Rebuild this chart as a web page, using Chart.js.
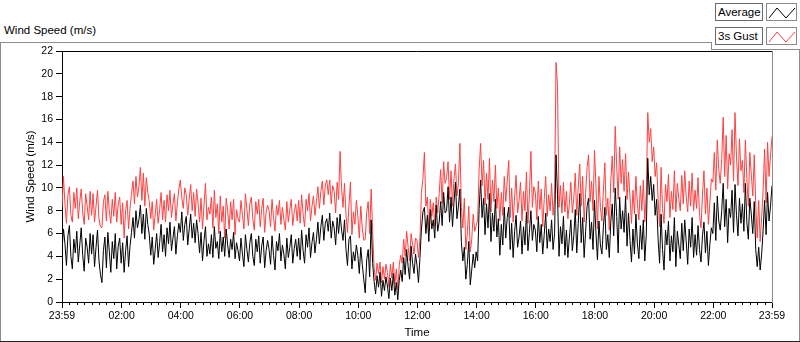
<!DOCTYPE html>
<html>
<head>
<meta charset="utf-8">
<script src="https://cdn.jsdelivr.net/npm/chart.js@4/dist/chart.umd.min.js"></script>
<style>
html,body{margin:0;padding:0;background:#fff;}
#wrap{position:relative;width:800px;height:342px;overflow:hidden;font-family:"Liberation Sans",Arial,sans-serif;color:#000;}
.ln{position:absolute;background:#8c8c8c;}
#title{position:absolute;left:4px;top:24px;font-size:11.5px;line-height:13px;white-space:nowrap;}
.lg{position:absolute;box-sizing:border-box;height:18px;border:1px solid #6a6a6a;background:#fff;font-size:11.5px;line-height:15px;padding:1px 0 0 2px;white-space:nowrap;}
.ic{position:absolute;box-sizing:border-box;width:31px;height:18px;border:1px solid #8a8a8a;background:#fff;}
.ic svg{position:absolute;left:0;top:0;}
canvas{position:absolute;left:0;top:0;}
</style>
</head>
<body>
<div id="wrap">
  <div class="ln" style="left:0;top:42px;width:712px;height:1px;"></div>
  <div class="ln" style="left:711px;top:42px;width:1px;height:8px;"></div>
  <div class="ln" style="left:711px;top:49px;width:89px;height:1px;"></div>
  <div class="ln" style="left:0;top:42px;width:1px;height:300px;"></div>
  <div class="ln" style="left:799px;top:49px;width:1px;height:293px;"></div>
  <div class="ln" style="left:0;top:341px;width:800px;height:1px;background:#202020;"></div>
  <div id="title">Wind Speed (m/s)</div>
  <div class="lg" style="left:715px;top:3px;width:48px;">Average</div>
  <div class="ic" style="left:766px;top:3px;"><svg width="31" height="18"><polyline points="2,14 10,4 19,14 28,4" fill="none" stroke="#000" stroke-width="1"/></svg></div>
  <div class="lg" style="left:715px;top:27px;width:48px;">3s Gust</div>
  <div class="ic" style="left:766px;top:27px;"><svg width="31" height="18"><polyline points="2,14 10,4 19,14 28,4" fill="none" stroke="rgb(255,64,64)" stroke-width="1"/></svg></div>
  <canvas id="c" width="800" height="342"></canvas>
</div>
<script>
// Sampling interval of the series, minutes from the first sample (23:59)
const STEP_MIN = 3;

const seriesNames = ['Average', '3s Gust'];

// Average wind speed (m/s), one value every 3 minutes, 23:59 -> 23:59 (one row per hour)
const avgSpeed = [
  4.6, 6.4, 5.1, 3.2, 5.8, 6.7, 4.0, 2.9, 5.5, 4.3, 6.2, 3.5, 5.0, 6.5, 4.1, 2.7, 5.6, 4.8, 3.4, 6.0,
  4.2, 5.9, 3.1, 4.8, 6.3, 3.6, 2.4, 1.7, 4.5, 5.7, 3.0, 6.1, 4.4, 2.6, 5.3, 3.8, 6.0, 2.9, 4.9, 5.6,
  3.4, 5.2, 2.6, 4.5, 5.8, 3.1, 4.9, 6.1, 7.4, 5.6, 8.0, 6.5, 7.2, 8.5, 6.0, 7.7, 5.5, 8.2, 6.8, 5.9,
  4.1, 5.7, 3.3, 4.6, 6.0, 3.9, 5.2, 6.8, 4.4, 5.9, 4.0, 6.5, 5.1, 7.0, 4.5, 5.6, 6.6, 4.2, 5.8, 6.9,
  6.1, 7.9, 5.4, 6.8, 7.5, 5.0, 6.4, 7.7, 5.6, 6.9, 5.2, 7.2, 6.0, 4.3, 6.1, 3.6, 5.4, 6.6, 4.0, 5.1,
  4.2, 5.9, 3.9, 6.6, 4.7, 5.3, 3.8, 6.2, 4.4, 5.7, 4.0, 6.4, 5.0, 3.9, 5.5, 4.6, 6.1, 3.8, 5.2, 4.5,
  3.6, 5.6, 4.2, 3.1, 5.9, 4.6, 3.5, 5.2, 6.0, 4.0, 3.2, 5.5, 4.4, 5.8, 3.4, 4.9, 5.7, 3.0, 4.5, 5.4,
  4.6, 3.3, 5.8, 4.1, 2.8, 5.3, 4.5, 6.0, 3.6, 5.0, 4.2, 2.9, 5.6, 3.9, 4.8, 5.9, 3.4, 4.7, 5.5, 4.0,
  5.6, 3.7, 6.3, 4.5, 3.4, 5.9, 4.8, 6.5, 3.9, 5.2, 6.1, 4.3, 5.5, 7.0, 5.1, 6.6, 7.6, 5.4, 6.9, 7.3,
  6.2, 7.8, 5.6, 7.1, 6.5, 5.0, 7.4, 6.0, 7.7, 6.3, 5.4, 7.2, 4.6, 3.2, 5.5, 5.8, 2.9, 4.4, 3.6, 5.0,
  4.1, 2.5, 4.8, 3.3, 2.0, 0.8, 3.7, 4.6, 2.2, 7.2, 3.4, 1.8, 0.7, 2.3, 1.3, 2.6, 0.5, 1.9, 1.0, 2.2,
  1.4, 0.3, 2.1, 1.0, 2.5, 0.6, 1.7, 0.2, 1.9, 2.8, 1.8, 3.9, 2.4, 4.6, 3.1, 2.0, 4.9, 3.4, 2.5, 4.2,
  3.2, 1.7, 3.9, 6.4, 7.9, 8.3, 6.0, 7.6, 5.3, 8.1, 6.4, 7.2, 5.6, 8.5, 6.2, 7.0, 8.8, 6.7, 9.6, 7.8,
  8.0, 10.1, 7.0, 9.2, 6.6, 8.7, 10.5, 7.3, 8.4, 9.9, 5.2, 3.6, 4.8, 2.0, 3.3, 5.3, 1.5, 2.8, 4.2, 3.0,
  4.4, 3.6, 8.2, 10.7, 7.4, 9.1, 5.9, 8.6, 6.5, 9.5, 5.3, 7.8, 6.2, 9.0, 5.7, 7.3, 4.1, 6.8, 5.0, 8.3,
  5.6, 7.4, 8.3, 4.6, 6.9, 3.9, 6.2, 7.6, 4.8, 5.7, 7.1, 4.2, 6.6, 5.0, 7.9, 4.5, 6.1, 8.0, 5.4, 6.8,
  6.3, 4.4, 7.5, 5.2, 6.8, 4.2, 5.9, 7.8, 4.7, 6.4, 5.3, 7.2, 4.6, 6.0, 12.9, 9.4, 4.0, 6.6, 5.1, 7.5,
  4.1, 6.3, 3.9, 5.6, 7.2, 4.5, 5.8, 8.1, 4.3, 6.9, 9.5, 5.2, 7.4, 3.9, 6.2, 8.4, 9.1, 5.5, 7.0, 4.6,
  8.9, 6.0, 3.7, 7.1, 5.0, 4.2, 6.6, 8.3, 4.6, 5.9, 3.9, 7.0, 8.6, 5.8, 10.0, 7.5, 4.3, 9.2, 6.4, 8.0,
  6.1, 9.3, 4.9, 7.8, 5.4, 3.5, 6.4, 4.2, 7.7, 5.1, 3.8, 6.7, 4.6, 7.2, 3.6, 5.9, 12.6, 9.4, 11.0, 8.9,
  10.3, 7.6, 9.0, 5.5, 3.4, 7.7, 4.6, 2.8, 6.3, 5.0, 7.1, 3.6, 5.8, 4.4, 7.4, 3.1, 6.2, 5.0, 3.8, 6.9,
  4.5, 7.2, 5.3, 3.3, 6.4, 4.8, 7.4, 3.9, 5.9, 4.1, 6.7, 4.6, 3.5, 5.8, 7.0, 4.3, 6.2, 3.2, 5.1, 6.5,
  6.0, 8.7, 5.4, 9.3, 7.1, 6.3, 8.0, 10.4, 6.6, 9.0, 5.2, 8.2, 7.4, 9.8, 6.1, 10.3, 7.6, 5.8, 9.1, 6.9,
  8.6, 6.2, 10.4, 7.0, 5.5, 9.1, 7.7, 6.0, 8.8, 4.6, 3.1, 4.8, 2.8, 4.2, 6.3, 8.9, 5.9, 9.6, 7.1, 8.4,
  10.2
];

// 3-second gust (m/s), same sampling
const gustSpeed = [
  8.3, 11.0, 8.6, 6.9, 9.4, 10.1, 7.6, 7.0, 9.6, 8.2, 10.0, 7.3, 8.8, 9.9, 7.8, 6.8, 9.5, 8.4, 7.2, 9.7,
  7.6, 9.5, 7.0, 8.4, 9.8, 7.3, 6.6, 6.5, 8.8, 9.4, 7.1, 9.7, 8.0, 6.9, 9.0, 7.5, 9.6, 7.0, 8.6, 9.2,
  6.8, 8.7, 5.6, 8.0, 8.9, 6.4, 8.2, 9.5, 10.6, 8.6, 11.0, 9.2, 10.1, 11.8, 8.9, 11.3, 8.4, 10.9, 9.6, 8.8,
  7.3, 8.8, 6.3, 7.7, 9.0, 6.9, 8.1, 9.6, 7.2, 8.9, 7.0, 9.4, 8.0, 9.8, 7.4, 8.6, 9.5, 7.1, 8.7, 9.9,
  10.7, 9.1, 8.2, 10.0, 9.4, 7.6, 9.0, 10.3, 8.0, 9.6, 7.5, 9.9, 8.6, 7.0, 9.1, 6.4, 8.5, 10.4, 7.2, 8.3,
  7.7, 9.2, 6.5, 9.8, 7.4, 8.6, 6.0, 9.3, 7.0, 8.4, 5.6, 9.1, 8.0, 6.4, 8.8, 7.2, 9.0, 5.9, 8.1, 7.3,
  7.0, 8.9, 7.6, 6.4, 9.5, 8.1, 6.7, 8.6, 9.2, 7.3, 6.3, 8.8, 7.7, 9.0, 6.6, 8.2, 9.1, 6.1, 7.9, 8.5,
  8.0, 6.6, 9.0, 7.4, 6.2, 8.5, 7.6, 8.9, 6.8, 8.3, 7.2, 6.3, 8.8, 7.0, 8.1, 9.0, 6.7, 7.9, 8.6, 7.1,
  8.9, 6.9, 9.4, 7.7, 6.6, 9.0, 8.0, 9.5, 7.1, 8.4, 9.3, 7.6, 8.8, 10.1, 8.2, 9.7, 10.6, 8.5, 10.2, 10.7,
  9.4, 10.7, 8.6, 10.2, 9.7, 7.8, 10.5, 9.0, 13.2, 10.0, 8.3, 10.4, 7.6, 6.1, 8.5, 10.5, 5.9, 7.9, 6.8, 8.9,
  7.6, 5.6, 8.4, 6.5, 5.4, 5.5, 7.9, 8.8, 6.0, 9.9, 6.2, 3.0, 1.9, 3.4, 2.5, 3.5, 1.7, 3.1, 2.0, 3.3,
  2.6, 1.3, 3.3, 2.1, 3.5, 1.6, 2.9, 1.1, 3.2, 4.1, 3.4, 5.5, 4.0, 6.2, 4.8, 3.6, 6.0, 5.1, 4.2, 5.6,
  5.4, 3.9, 5.6, 9.6, 10.8, 13.1, 8.4, 9.2, 6.2, 9.0, 7.5, 8.7, 6.6, 9.2, 7.8, 9.5, 11.6, 8.6, 12.3, 10.4,
  10.9, 12.3, 9.0, 11.5, 8.4, 10.8, 12.1, 9.3, 10.4, 13.9, 8.3, 6.5, 9.1, 4.6, 6.0, 8.4, 4.4, 5.5, 7.7, 6.2,
  6.7, 7.2, 11.6, 13.9, 10.2, 12.4, 8.5, 11.3, 9.0, 12.6, 7.9, 10.7, 8.8, 12.0, 8.2, 10.0, 7.1, 9.6, 7.6, 11.0,
  8.8, 10.6, 12.4, 7.4, 10.0, 7.0, 9.2, 11.1, 7.8, 8.9, 10.5, 7.1, 9.7, 8.0, 11.4, 6.9, 9.4, 13.2, 8.3, 10.1,
  9.6, 7.2, 10.6, 8.1, 9.9, 6.6, 9.0, 11.0, 7.5, 9.4, 8.0, 10.4, 7.6, 9.2, 21.0, 18.9, 8.3, 10.2, 7.8, 10.5,
  7.9, 9.7, 7.3, 8.6, 10.5, 7.8, 9.1, 11.3, 7.6, 10.0, 12.1, 8.4, 11.0, 7.0, 9.6, 11.8, 12.9, 8.8, 10.6, 8.0,
  13.3, 10.1, 6.4, 11.0, 8.3, 7.1, 9.8, 12.2, 7.6, 9.1, 6.3, 10.6, 12.8, 9.6, 15.4, 11.9, 9.0, 13.6, 10.4, 12.5,
  9.7, 13.0, 9.0, 11.4, 9.2, 6.9, 9.8, 7.7, 11.0, 8.6, 7.2, 10.2, 8.0, 10.7, 7.0, 9.5, 16.6, 14.0, 15.2, 12.3,
  13.6, 11.0, 12.2, 9.0, 6.6, 11.8, 8.2, 6.9, 10.3, 8.8, 11.2, 7.4, 9.7, 8.1, 11.5, 7.9, 10.4, 9.0, 8.0, 11.1,
  8.6, 11.5, 9.2, 7.9, 10.6, 8.4, 11.3, 8.0, 9.8, 8.2, 10.9, 7.6, 6.5, 9.4, 11.5, 7.7, 10.0, 6.8, 8.7, 10.8,
  10.5, 13.1, 9.8, 14.2, 11.6, 10.4, 12.5, 16.2, 11.0, 14.6, 9.9, 13.0, 12.0, 15.1, 10.6, 16.6, 12.7, 10.2, 14.3, 11.5,
  12.4, 9.6, 14.2, 10.8, 8.4, 13.1, 11.2, 9.3, 12.9, 8.6, 5.6, 8.9, 5.3, 7.4, 9.8, 13.4, 8.7, 14.0, 11.0, 12.8,
  14.5
];

// Time axis: major ticks (minutes after 23:59) and their labels
const xTickMinutes = [0, 121, 241, 361, 481, 601, 721, 841, 961, 1081, 1201, 1321, 1440];
const xTickLabels = ['23:59', '02:00', '04:00', '06:00', '08:00', '10:00', '12:00', '14:00', '16:00', '18:00', '20:00', '22:00', '23:59'];
const MINOR_STEP = 15;

// Value axis ticks
const yTickValues = [0, 2, 4, 6, 8, 10, 12, 14, 16, 18, 20, 22];

const X_MAX = xTickMinutes[xTickMinutes.length - 1];
const Y_MAX = yTickValues[yTickValues.length - 1];

const toXY = arr => arr.map((v, i) => ({ x: i * STEP_MIN, y: v }));
const minorTicks = [];
for (let m = 1 + MINOR_STEP; m < X_MAX; m += MINOR_STEP) minorTicks.push({ value: m });

const FAMILY = '"Liberation Sans", Arial, sans-serif';
const tickFont = { family: FAMILY, size: 10.5 };
const titleFont = { family: FAMILY, size: 11.5 };

new Chart(document.getElementById('c'), {
  type: 'line',
  data: {
    datasets: [
      { label: seriesNames[0], data: toXY(avgSpeed), xAxisID: 'x', yAxisID: 'y',
        borderColor: '#000000', borderWidth: 1, pointRadius: 0, tension: 0, fill: false },
      { label: seriesNames[1], data: toXY(gustSpeed), xAxisID: 'x', yAxisID: 'y',
        borderColor: 'rgb(255,64,64)', borderWidth: 1, pointRadius: 0, tension: 0, fill: false }
    ]
  },
  options: {
    animation: false,
    responsive: false,
    devicePixelRatio: 1,
    events: [],
    layout: { padding: { left: 0, right: 28, top: 51, bottom: 0 } },
    plugins: { legend: { display: false }, tooltip: { enabled: false } },
    scales: {
      x: {
        type: 'linear', position: 'bottom', min: 0, max: X_MAX,
        afterBuildTicks: s => { s.ticks = xTickMinutes.map(v => ({ value: v })); },
        afterFit: s => { s.height = 40; },
        ticks: { autoSkip: false, maxRotation: 0, minRotation: 0, padding: 2, color: '#000', font: tickFont,
                 callback: (v, i) => xTickLabels[i] },
        grid: { display: true, drawOnChartArea: false, drawTicks: true, tickLength: 6, color: '#000' },
        border: { display: true, color: '#000', width: 1 },
        title: { display: true, text: 'Time', color: '#000', font: titleFont, padding: { top: 0, bottom: 2 } }
      },
      xMinor: {
        type: 'linear', axis: 'x', position: { y: 0 }, min: 0, max: X_MAX,
        afterBuildTicks: s => { s.ticks = minorTicks.slice(); },
        ticks: { display: false },
        grid: { display: true, drawOnChartArea: false, drawTicks: true, tickLength: 3, color: '#000' },
        border: { display: false }
      },
      xTop: {
        type: 'linear', axis: 'x', position: 'top', min: 0, max: X_MAX,
        afterFit: s => { s.height = 0; },
        ticks: { display: false },
        grid: { display: false },
        border: { display: true, color: '#000', width: 1 }
      },
      y: {
        type: 'linear', position: 'left', min: 0, max: Y_MAX,
        afterBuildTicks: s => { s.ticks = yTickValues.map(v => ({ value: v })); },
        afterFit: s => { s.width = 62; },
        ticks: { padding: 3, color: '#000', font: tickFont },
        grid: { display: true, drawOnChartArea: false, drawTicks: true, tickLength: 6, color: '#000' },
        border: { display: true, color: '#000', width: 1 },
        title: { display: true, text: 'Wind Speed (m/s)', color: '#000', font: titleFont, padding: { top: 24, bottom: 0 } }
      },
      yRight: {
        type: 'linear', axis: 'y', position: 'right', min: 0, max: Y_MAX,
        afterFit: s => { s.width = 0; },
        ticks: { display: false },
        grid: { display: false },
        border: { display: true, color: '#8c8c8c', width: 1 }
      }
    }
  }
});
</script>
</body>
</html>
